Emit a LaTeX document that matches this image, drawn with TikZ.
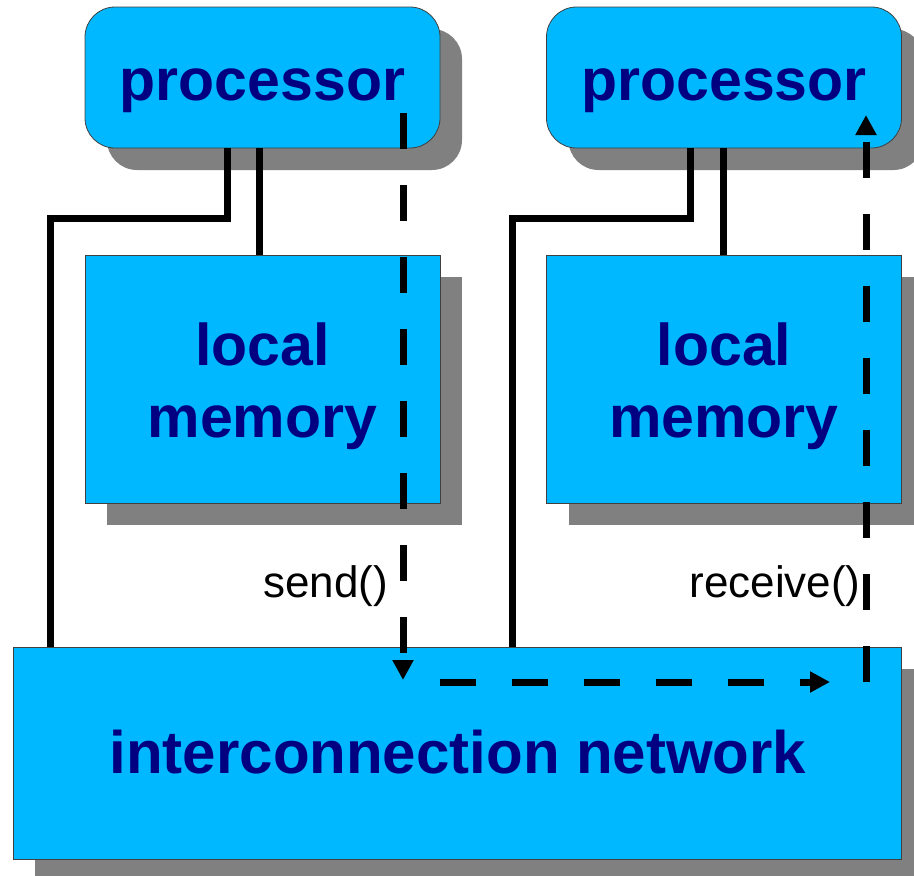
\documentclass[tikz,border=0pt]{standalone}
\usepackage{fontspec}
\setmainfont{Liberation Sans}
\usetikzlibrary{arrows.meta,shadows}
\definecolor{boxfill}{RGB}{0,184,255}
\definecolor{labelnavy}{RGB}{0,0,128}
\definecolor{shadowgray}{RGB}{128,128,128}

\begin{document}
\begin{tikzpicture}[x=1pt,y=-1pt,
  unitbox/.style={draw=black!75, line width=0.8pt, fill=boxfill, inner sep=0pt,
    drop shadow={shadow xshift=22pt, shadow yshift=-22pt, fill=shadowgray, opacity=1}},
  procbox/.style={unitbox, rounded corners=30pt, minimum width=355pt, minimum height=141pt},
  membox/.style={unitbox, minimum width=355pt, minimum height=248pt},
  title/.style={text=labelnavy, font=\fontsize{59}{70}\selectfont\bfseries, inner sep=0pt, anchor=base},
  call/.style={text=black, font=\fontsize{44}{50}\selectfont, inner sep=0pt, anchor=base},
  wire/.style={line width=7pt},
  msg/.style={line width=7pt, dash pattern=on 36pt off 36pt,
    -{Triangle[width=20pt,length=20pt]}}
]
\useasboundingbox (0,0) rectangle (914,876);
\clip (0,0) rectangle (914,876);

% processing units and the network
\node[procbox] (p1) at (262.5,77.5) {};
\node[procbox] (p2) at (724,77.5) {};
\node[membox] (mem1) at (262.5,379) {};
\node[membox] (mem2) at (724,379) {};
\node[unitbox, minimum width=888pt, minimum height=212pt] (net) at (457,753) {};

% labels
\node[title] (p1t) at (262.5,100) {processor};
\node[title] (p2t) at (724,100) {processor};
\node[title] (m1a) at (262.5,365) {local};
\node[title] (m1b) at (262.5,437) {memory};
\node[title] (m2a) at (724,365) {local};
\node[title] (m2b) at (724,437) {memory};
\node[title, font=\fontsize{60}{70}\selectfont\bfseries] (nett) at (458,773) {interconnection network};
\node[call] (sendt) at (325.5,597) {send()};
\node[call] (recvt) at (775,597) {receive()};

% wiring
\coordinate (bend1) at (227,218);
\coordinate (drop1) at (50,218);
\coordinate (mx1) at (259,0);
\coordinate (bend2) at (690,218);
\coordinate (drop2) at (512,218);
\coordinate (mx2) at (723,0);
\draw[wire] (p1.south -| bend1) -- (bend1) -- (drop1) -- (drop1 |- net.north);
\draw[wire] (p1.south -| mx1) -- (mem1.north -| mx1);
\draw[wire] (p2.south -| bend2) -- (bend2) -- (drop2) -- (drop2 |- net.north);
\draw[wire] (p2.south -| mx2) -- (mem2.north -| mx2);

% message path
\coordinate (sendstart) at (403,113);
\coordinate (sendend) at (403,680);
\coordinate (hopstart) at (440,682);
\coordinate (hopend) at (830,682);
\coordinate (recvstart) at (866,682);
\coordinate (recvend) at (866,115);
\draw[msg] (sendstart) -- (sendend);
\draw[msg] (hopstart) -- (hopend);
\draw[msg] (recvstart) -- (recvend);
\end{tikzpicture}
\end{document}
